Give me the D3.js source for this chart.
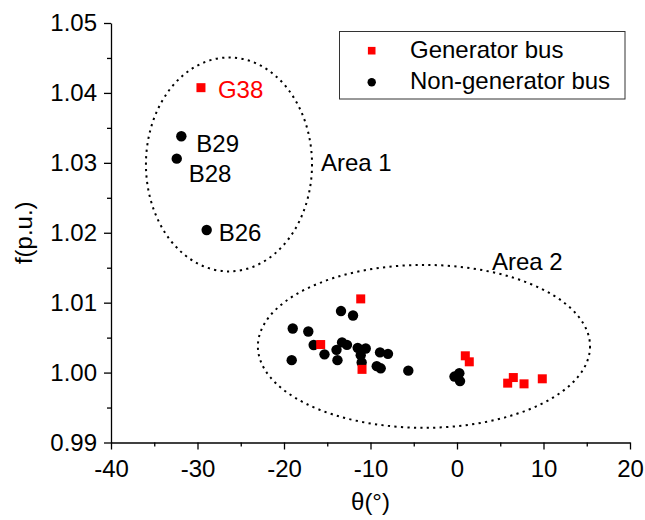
<!DOCTYPE html>
<html>
<head>
<meta charset="utf-8">
<script src="https://cdn.jsdelivr.net/npm/d3@7"></script>
<style>
  html, body { margin: 0; padding: 0; background: #fff; }
  svg { display: block; }
  text { font-family: "Liberation Sans", Arial, sans-serif; }
</style>
</head>
<body>
<svg id="chart" width="645" height="520"></svg>
<script>
// Bus angle (deg) and frequency (p.u.)
const genTheta = [-29.60, -11.13, -15.76, -10.98, 0.96, 1.42, 5.86, 6.51, 7.75, 9.86];
const genFreq  = [1.04075, 1.01054, 1.00401, 1.00046, 1.00240, 1.00154, 0.99849, 0.99929, 0.99839, 0.99911];

const nonGenTheta = [-31.87, -32.40, -28.94,
  -18.99, -19.11, -17.19, -16.57, -15.32, -13.82, -13.93, -13.29, -12.72, -13.41, -12.02,
  -11.48, -10.55, -11.13, -11.02, -8.90, -7.98, -9.28, -8.82, -5.63, -0.29, 0.27, 0.35];
const nonGenFreq = [1.0338, 1.0306, 1.0204,
  1.00631, 1.00178, 1.00587, 1.00394, 1.00261, 1.00178, 1.00325, 1.00432, 1.00397, 1.00880, 1.00816,
  1.00354, 1.00344, 1.00249, 1.00144, 1.00289, 1.00268, 1.00092, 1.00061, 1.00028, 0.99943, 0.99992, 0.99878];

// Named buses
const busLabels = ["G38", "B29", "B28", "B26"];
const busLabelTheta = [-29.60, -31.87, -32.40, -28.94];
const busLabelFreq  = [1.04075, 1.0338, 1.0306, 1.0204];

// Area outlines: centre (theta, f) and half-widths
const areaNames = ["Area 1", "Area 2"];
const areaCx = [-26.36, -3.82];
const areaCy = [1.02977, 1.00375];
const areaRx = [9.6, 19.2];
const areaRy = [0.0153, 0.01165];

const xTicks = [-40, -30, -20, -10, 0, 10, 20];
const xMinor = [-35, -25, -15, -5, 5, 15];
const yTicks = [0.99, 1.00, 1.01, 1.02, 1.03, 1.04, 1.05];
const yMinor = [0.995, 1.005, 1.015, 1.025, 1.035, 1.045];

const svg = d3.select("#chart");
const plotLeft = 111, plotRight = 630, plotTop = 23, plotBottom = 442.5;
const FS = 24;

const x = d3.scaleLinear().domain([-40, 20]).range([plotLeft, plotRight]);
const y = d3.scaleLinear().domain([0.99, 1.05]).range([plotBottom, plotTop]);

// axes (plain hyphen for negative tick labels)
const xAxis = d3.axisBottom(x).tickValues(xTicks).tickSize(7).tickSizeOuter(0).tickPadding(10)
  .tickFormat(d => String(d));
const xAxisMinor = d3.axisBottom(x).tickValues(xMinor).tickSize(4).tickFormat("");
const yAxis = d3.axisLeft(y).tickValues(yTicks).tickSize(7).tickSizeOuter(0).tickPadding(7)
  .tickFormat(d => d.toFixed(2));
const yAxisMinor = d3.axisLeft(y).tickValues(yMinor).tickSize(4).tickFormat("");

function styleAxis(g) {
  g.selectAll("path,line").attr("stroke", "#000").attr("stroke-width", 1.3);
  g.selectAll("text").attr("fill", "#000").style("font-size", FS + "px")
    .style("font-family", "Liberation Sans, Arial, sans-serif");
}

svg.append("g").attr("transform", `translate(0,${plotBottom})`).call(xAxisMinor).call(styleAxis)
  .select(".domain").remove();
svg.append("g").attr("transform", `translate(${plotLeft},0)`).call(yAxisMinor).call(styleAxis)
  .select(".domain").remove();
svg.append("g").attr("transform", `translate(0,${plotBottom})`).call(xAxis).call(styleAxis);
svg.append("g").attr("transform", `translate(${plotLeft},0)`).call(yAxis).call(styleAxis);

// axis titles
svg.append("text").attr("x", (plotLeft + plotRight) / 2).attr("y", 510)
  .attr("text-anchor", "middle").style("font-size", FS + "px").text("θ(°)");
svg.append("text").attr("transform", `translate(32,${(plotTop + plotBottom) / 2}) rotate(-90)`)
  .attr("text-anchor", "middle").style("font-size", FS + "px").text("f(p.u.)");

// area outlines
const areas = areaNames.map((n, i) => ({ name: n, cx: areaCx[i], cy: areaCy[i], rx: areaRx[i], ry: areaRy[i] }));
svg.append("g").selectAll("ellipse").data(areas).join("ellipse")
  .attr("cx", d => x(d.cx)).attr("cy", d => y(d.cy))
  .attr("rx", d => x(d.cx + d.rx) - x(d.cx))
  .attr("ry", d => y(d.cy - d.ry) - y(d.cy))
  .attr("fill", "none").attr("stroke", "#000").attr("stroke-width", 2)
  .attr("stroke-dasharray", "2.2,4.3");

// area labels
svg.append("text").attr("x", 321).attr("y", 171).style("font-size", FS + "px").text(areaNames[0]);
svg.append("text").attr("x", 492).attr("y", 270).style("font-size", FS + "px").text(areaNames[1]);

// non-generator buses
const nonGen = nonGenTheta.map((t, i) => ({ t, f: nonGenFreq[i] }));
svg.append("g").selectAll("circle").data(nonGen).join("circle")
  .attr("cx", d => x(d.t)).attr("cy", d => y(d.f)).attr("r", 5.2).attr("fill", "#000");

// generator buses
const gen = genTheta.map((t, i) => ({ t, f: genFreq[i] }));
const sq = 9;
svg.append("g").selectAll("rect").data(gen).join("rect")
  .attr("x", d => x(d.t) - sq / 2).attr("y", d => y(d.f) - sq / 2)
  .attr("width", sq).attr("height", sq).attr("fill", "#ff0000");

// bus labels
const labelDx = [17, 15, 12, 12];
const labelDy = [10.5, 15.5, 23, 11.5];
svg.append("g").selectAll("text").data(busLabels).join("text")
  .attr("x", (d, i) => x(busLabelTheta[i]) + labelDx[i])
  .attr("y", (d, i) => y(busLabelFreq[i]) + labelDy[i])
  .attr("fill", (d, i) => i === 0 ? "#ff0000" : "#000")
  .style("font-size", FS + "px").text(d => d);

// legend
const lg = svg.append("g");
lg.append("rect").attr("x", 339.5).attr("y", 31.5).attr("width", 285.5).attr("height", 67.5)
  .attr("fill", "#fff").attr("stroke", "#333").attr("stroke-width", 1);
lg.append("rect").attr("x", 371.7 - 3.8).attr("y", 50.7 - 3.8).attr("width", 7.6).attr("height", 7.6)
  .attr("fill", "#ff0000");
lg.append("circle").attr("cx", 371.7).attr("cy", 82.3).attr("r", 4.2).attr("fill", "#000");
lg.append("text").attr("x", 410).attr("y", 57.5).style("font-size", FS + "px").text("Generator bus");
lg.append("text").attr("x", 410).attr("y", 88.5).style("font-size", FS + "px").text("Non-generator bus");
</script>
</body>
</html>
